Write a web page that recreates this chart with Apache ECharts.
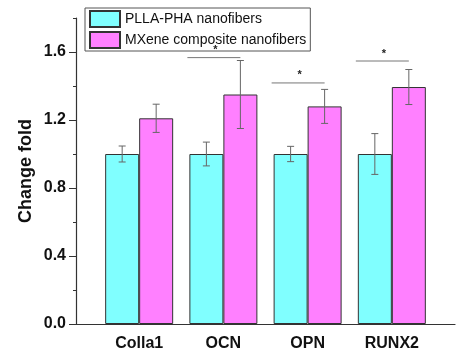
<!DOCTYPE html>
<html><head><meta charset="utf-8">
<script src="https://cdn.jsdelivr.net/npm/echarts@6/dist/echarts.min.js"></script>
<style>html,body{margin:0;padding:0;background:#fff}#c{width:462px;height:362px}</style>
</head><body><div id="c"></div>
<script>
const categories = ['Colla1', 'OCN', 'OPN', 'RUNX2'];
const seriesNames = ['PLLA-PHA nanofibers', 'MXene composite nanofibers'];
const plla = [1.0, 1.0, 1.0, 1.0];
const pllaErr = [0.047, 0.07, 0.045, 0.12];
const mxene = [1.21, 1.35, 1.28, 1.394];
const mxeneErr = [0.083, 0.2, 0.1, 0.103];
const sigCats = [1, 2, 3];          // indices of categories with significance marks
const sigHeights = [1.567, 1.418, 1.547];
const yTicks = [0, 0.4, 0.8, 1.2, 1.6];

const FONT = 'Arial, "Liberation Sans", sans-serif';
const BW = 34;
const chart = echarts.init(document.getElementById('c'), null, {renderer: 'canvas'});

const barData = arr => arr.map((v, i) => [i + 1, v]);
const errData = [];
plla.forEach((v, i) => errData.push([i + 1, v, pllaErr[i], -1]));
mxene.forEach((v, i) => errData.push([i + 1, v, mxeneErr[i], 1]));
const sigData = sigCats.map((c, k) => [c + 1, sigHeights[k]]);

chart.setOption({
  animation: false,
  grid: {left: 76, right: 7, top: 18, bottom: 38},
  legend: {
    orient: 'vertical', left: 85, top: 8,
    itemWidth: 30, itemHeight: 16, itemGap: 3,
    padding: [2, 4, 2, 4],
    borderColor: '#555', borderWidth: 1,
    icon: 'rect',
    textStyle: {fontFamily: FONT, fontSize: 14, color: '#111'},
    data: seriesNames
  },
  xAxis: {
    type: 'value', min: 0.25, max: 4.75, interval: 0.25,
    splitLine: {show: false},
    axisTick: {show: false},
    axisLine: {show: true, onZero: false, lineStyle: {color: '#333', width: 1.2}},
    axisLabel: {
      margin: 12, fontFamily: FONT, fontSize: 16, fontWeight: 'bold', color: '#111',
      formatter: v => (Math.abs(v - Math.round(v)) < 1e-6 && v >= 1 && v <= 4) ? categories[Math.round(v) - 1] : ''
    }
  },
  yAxis: [{
    type: 'value', min: 0, max: 1.8, interval: 0.4,
    name: 'Change fold', nameLocation: 'middle', nameGap: 41, nameMoveOverlap: false,
    nameTextStyle: {fontFamily: FONT, fontSize: 18, fontWeight: 'bold', color: '#111'},
    splitLine: {show: false},
    axisLine: {show: true, lineStyle: {color: '#333', width: 1.2}},
    axisTick: {show: true, length: 7, customValues: yTicks, lineStyle: {color: '#333'}},
    axisLabel: {
      margin: 10, fontFamily: FONT, fontSize: 16, fontWeight: 'bold', color: '#111',
      customValues: yTicks,
      formatter: v => (v > 1.7 ? '' : v.toFixed(1))
    }
  }, {
    type: 'value', min: 0, max: 1.8, interval: 0.2, position: 'left',
    splitLine: {show: false},
    axisLine: {show: false},
    axisTick: {show: true, length: 3, lineStyle: {color: '#333'}},
    axisLabel: {show: false}
  }],
  series: [{
    name: seriesNames[0], type: 'bar', data: barData(plla),
    barWidth: BW, barGap: '0%',
    itemStyle: {color: '#80FFFF', borderColor: '#333', borderWidth: 1}
  }, {
    name: seriesNames[1], type: 'bar', data: barData(mxene),
    barWidth: BW, barGap: '0%',
    itemStyle: {color: '#FF80FF', borderColor: '#333', borderWidth: 1}
  }, {
    type: 'custom', data: errData, z: 10,
    renderItem: (params, api) => {
      const x = api.value(0), v = api.value(1), e = api.value(2), side = api.value(3);
      const top = api.coord([x, v + e]), bot = api.coord([x, v - e]);
      const cx = top[0] + side * BW / 2;
      const st = {stroke: '#666', lineWidth: 1};
      return {type: 'group', children: [
        {type: 'line', shape: {x1: cx, y1: top[1], x2: cx, y2: bot[1]}, style: st},
        {type: 'line', shape: {x1: cx - 3.5, y1: top[1], x2: cx + 3.5, y2: top[1]}, style: st},
        {type: 'line', shape: {x1: cx - 3.5, y1: bot[1], x2: cx + 3.5, y2: bot[1]}, style: st}
      ]};
    }
  }, {
    type: 'custom', data: sigData, z: 10,
    renderItem: (params, api) => {
      const p = api.coord([api.value(0), api.value(1)]);
      return {type: 'group', children: [
        {type: 'line', shape: {x1: p[0] - 36, y1: p[1], x2: p[0] + 17, y2: p[1]}, style: {stroke: '#777', lineWidth: 1}},
        {type: 'text', x: p[0] - 8, y: p[1] - 2, style: {text: '*', fontFamily: FONT, fontSize: 11, fontWeight: 'bold', fill: '#222', align: 'center', verticalAlign: 'bottom'}}
      ]};
    }
  }]
});
</script></body></html>
